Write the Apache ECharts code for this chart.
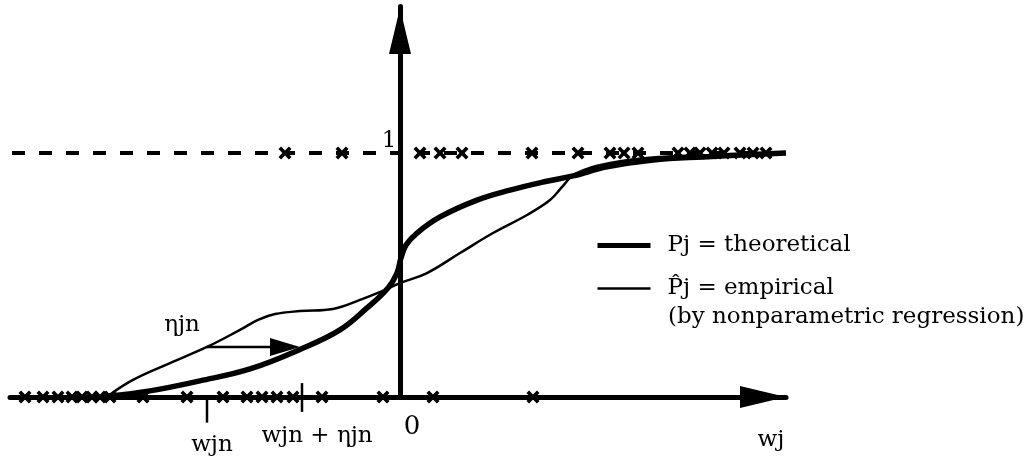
<!DOCTYPE html>
<html>
<head>
<meta charset="utf-8">
<script src="https://cdn.jsdelivr.net/npm/echarts@6/dist/echarts.min.js"></script>
<style>
  html, body { margin: 0; padding: 0; background: #fff; }
  #chart { width: 1034px; height: 456px; }
</style>
</head>
<body>
<div id="chart"></div>
<script>
// Observed choices: w_j values of the observations with outcome 0 and with outcome 1
const obsAtZero = [-3.75, -3.57, -3.42, -3.28, -3.18, -3.08, -3.0, -2.9, -2.57, -2.13, -1.77,
                   -1.53, -1.38, -1.23, -1.07, -0.78, -0.17, 0.33, 1.33];
const obsAtOne = [-1.15, -0.58, 0.2, 0.4, 0.62, 1.32, 1.78, 2.1, 2.24, 2.38, 2.78, 2.9, 3.0,
                  3.12, 3.24, 3.4, 3.53, 3.66];

// Theoretical probability curve P_j(w)
const theoreticalW = [-2.92, -2.5, -2.0, -1.5, -1.0, -0.6, -0.33, -0.12, -0.03, 0.01, 0.06,
                      0.17, 0.4, 0.77, 1.1, 1.43, 1.73, 2.07, 2.53, 3.03, 3.86];
const theoreticalP = [0.004, 0.025, 0.066, 0.115, 0.195, 0.275, 0.365, 0.447, 0.508, 0.57, 0.623,
                      0.672, 0.738, 0.807, 0.848, 0.881, 0.906, 0.943, 0.971, 0.984, 1.0];

// Empirical curve from nonparametric regression
const empiricalW = [-2.92, -2.67, -2.3, -1.93, -1.6, -1.42, -1.25, -1.0, -0.67, -0.4, -0.15, 0.0,
                    0.27, 0.6, 0.93, 1.27, 1.5, 1.63, 1.75, 2.1, 2.6, 3.2, 3.86];
const empiricalP = [0.004, 0.07, 0.139, 0.205, 0.275, 0.316, 0.34, 0.352, 0.361, 0.398, 0.439, 0.467,
                    0.508, 0.59, 0.672, 0.746, 0.807, 0.865, 0.914, 0.959, 0.984, 0.992, 1.0];

// Shift eta_jn: P-hat(w_jn) = P(w_jn + eta_jn)
const wJn = -1.93;
const wJnPlusEta = -0.98;
const etaLevel = 0.205;

// Axis extents
const wMin = -3.9, wMax = 3.86;
const pMin = 0, pMax = 1.6;

// Annotation texts and their anchors in (w, P) units
const annText = ['1', '0', 'wjn', 'wjn + ηjn', 'wj', 'ηjn'];
const annW    = [-0.11, 0.12, -1.88, -0.83, 3.71, -2.18];
const annP    = [1.05, -0.125, -0.195, -0.16, -0.175, 0.295];

const pair = (xs, ys) => xs.map((x, i) => [x, ys[i]]);

const INK = '#000';
const SERIF = 'DejaVu Serif';
const CROSS = 'path://M0,2.4 L2.4,0 L6,3.6 L9.6,0 L12,2.4 L8.4,6 L12,9.6 L9.6,12 L6,8.4 L2.4,12 L0,9.6 L3.6,6 Z';

const chart = echarts.init(document.getElementById('chart'), null, { renderer: 'canvas' });

chart.setOption({
  animation: false,
  backgroundColor: '#fff',
  grid: { left: 10, right: 248, top: 6.6, bottom: 59, containLabel: false },
  xAxis: {
    type: 'value', min: wMin, max: wMax,
    axisLine: {
      onZero: true,
      symbol: ['none', 'triangle'], symbolSize: [22, 46], symbolOffset: [0, -23],
      lineStyle: { color: INK, width: 5 }
    },
    axisTick: { show: false }, axisLabel: { show: false }, splitLine: { show: false }
  },
  yAxis: {
    type: 'value', min: pMin, max: pMax,
    axisLine: {
      onZero: true,
      symbol: ['none', 'triangle'], symbolSize: [22, 46], symbolOffset: [0, -24.4],
      lineStyle: { color: INK, width: 5 }
    },
    axisTick: { show: false }, axisLabel: { show: false }, splitLine: { show: false }
  },
  legend: {
    orient: 'vertical', left: 590, top: 229,
    itemWidth: 53, itemHeight: 14, itemGap: 20,
    selectedMode: false,
    itemStyle: { opacity: 0, color: 'transparent', borderWidth: 0 },
    textStyle: { fontFamily: SERIF, fontSize: 23, color: INK, padding: [0, 0, 0, 12] },
    data: [
      { name: 'Pj = theoretical', lineStyle: { width: 5, color: INK } },
      { name: 'P\u0302j = empirical', lineStyle: { width: 2.5, color: INK } }
    ]
  },
  graphic: [{
    type: 'text', left: 668, top: 306,
    style: { text: '(by nonparametric regression)', font: '23px "DejaVu Serif"', fill: INK }
  }],
  series: [
    {
      name: 'level one', type: 'line', symbol: 'none', clip: false, silent: true,
      data: [[-3.88, 1], [wMax, 1]],
      lineStyle: { color: INK, width: 4, type: [13, 14] }
    },
    {
      name: 'Pj = theoretical', type: 'line', symbol: 'none', smooth: 0.4, clip: false,
      data: pair(theoreticalW, theoreticalP),
      lineStyle: { color: INK, width: 5.5 }, itemStyle: { color: INK }
    },
    {
      name: 'P\u0302j = empirical', type: 'line', symbol: 'none', smooth: 0.4, clip: false,
      data: pair(empiricalW, empiricalP),
      lineStyle: { color: INK, width: 2.5 }, itemStyle: { color: INK }
    },
    {
      name: 'y = 0', type: 'scatter', symbol: CROSS, symbolSize: 13, clip: false,
      data: obsAtZero.map(w => [w, 0]), itemStyle: { color: INK, opacity: 1 }
    },
    {
      name: 'y = 1', type: 'scatter', symbol: CROSS, symbolSize: 13, clip: false,
      data: obsAtOne.map(w => [w, 1]), itemStyle: { color: INK, opacity: 1 }
    },
    {
      name: 'tick wjn', type: 'line', symbol: 'none', clip: false,
      data: [[wJn, 0], [wJn, -0.105]], lineStyle: { color: INK, width: 2.5 }
    },
    {
      name: 'tick wjn+eta', type: 'line', symbol: 'none', clip: false,
      data: [[wJnPlusEta, 0.057], [wJnPlusEta, -0.061]], lineStyle: { color: INK, width: 2.5 }
    },
    {
      name: 'eta shaft', type: 'line', symbol: 'none', clip: false,
      data: [[wJn, etaLevel], [-1.2, etaLevel]], lineStyle: { color: INK, width: 2.5 }
    },
    {
      name: 'eta head', type: 'scatter', symbol: 'triangle', symbolSize: [18, 30], symbolRotate: -90,
      clip: false, data: [[-1.15, etaLevel]], itemStyle: { color: INK, opacity: 1 }
    },
    {
      name: 'annotations', type: 'scatter', symbolSize: 1, clip: false, silent: true,
      itemStyle: { color: 'rgba(0,0,0,0)', opacity: 1 },
      data: annText.map((t, i) => ({
        name: t, value: [annW[i], annP[i]],
        label: t === '0' ? { fontSize: 26 } : undefined
      })),
      label: {
        show: true, position: 'inside', formatter: '{b}',
        fontFamily: SERIF, fontSize: 23, color: INK
      }
    }
  ]
});
</script>
</body>
</html>
